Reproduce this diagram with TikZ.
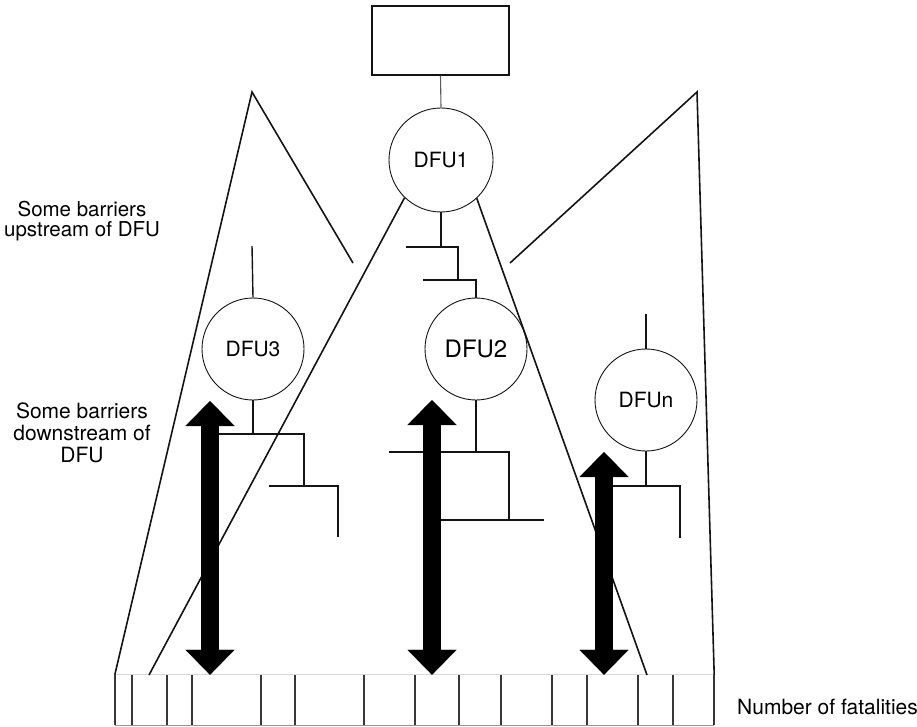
\documentclass[tikz,border=0pt]{standalone}
\usepackage{fontspec}
\setsansfont{TeX Gyre Heros}
\usetikzlibrary{arrows.meta, calc}
\definecolor{tDark}{RGB}{20, 20, 20}
\definecolor{bGridTop}{RGB}{215, 215, 215}
\definecolor{bGridBot}{RGB}{150, 150, 150}

\begin{document}
\begin{tikzpicture}[
    x=1pt, y=-1pt,
    font=\sffamily\fontsize{21}{22}\selectfont,
    dfu/.style={
        draw=tDark,
        circle,
        line width=0.9pt,
        minimum size=102pt,
        inner sep=0pt,
        fill=white
    },
    link/.style={line width=1.4pt, color=tDark},
    side/.style={line width=1.6pt, color=tDark},
    tick/.style={line width=1.4pt, color=tDark!85},
    bigarrow/.style={line width=17.5pt, <->, >={Triangle[length=25pt, width=49pt, line width=0.1pt]}}
]

\useasboundingbox (0,0) rectangle (917,727);

% labels
\node[align=center, inner sep=0pt, font=\sffamily\fontsize{20.5}{19.5}\selectfont] (up) at (82,221) {Some barriers\\upstream of DFU};
\node[align=center, font=\sffamily\fontsize{21}{22}\selectfont] (down) at (82,433) {Some barriers\\downstream of\\DFU};
\node[anchor=base west, inner sep=0pt] (fat) at (737,714) {Number of fatalities};

% units
\node[draw=tDark, line width=1.1pt, minimum width=137pt, minimum height=69pt, inner sep=0pt] (src) at (440.5,40.5) {};
\node[dfu, minimum size=104pt] (dfu1) at (441,160) {DFU1};
\node[dfu, font=\sffamily\fontsize{24}{26}\selectfont] (dfu2) at (476,349) {DFU2};
\node[dfu] (dfu3) at (253,349) {DFU3};
\node[dfu] (dfun) at (646,400) {DFUn};

% fatalities scale
\node[minimum width=599pt, minimum height=50pt, inner sep=0pt] (bar) at (414.5,700) {};
\draw[bGridTop, line width=1pt] (bar.north west) -- (bar.north east);
\draw[bGridBot, line width=1pt] (bar.south west) -- (bar.south east);
\foreach \dx in {0,17,52,77,146,180,249,300,344,386,437,472,523,558,599}
    \draw[tick] ([xshift=\dx pt]bar.north west) -- ([xshift=\dx pt]bar.south west);

% barrier fans
\coordinate (apexL) at (252,92);
\coordinate (endL) at (353,263);
\coordinate (apexR) at (697,92);
\coordinate (endR) at (510,263);
\coordinate (footL) at (149,675);
\coordinate (footR) at (647,675);
\draw[side] (bar.north west) -- (apexL) -- (endL);
\draw[side] (endR) -- (apexR) -- (bar.north east);
\draw[side] (dfu1.226) -- (footL);
\draw[side] (dfu1.313) -- (footR);

% DFU1 -> DFU2
\coordinate (u1) at (406,247);
\coordinate (u1e) at (458,280);
\coordinate (u2) at (423,280);
\draw[link, line width=1.1pt, tDark!70] (src.south) -- (dfu1.north);
\draw[link] (dfu1.south) -- (dfu1.south |- u1);
\draw[link] (u1) -| (u1e);
\draw[link] (u2) -| (dfu2.north);

% DFU2 downstream
\coordinate (d2a) at (389,452);
\coordinate (d2b) at (509,520);
\coordinate (d2c) at (432,520);
\coordinate (d2d) at (544,520);
\draw[link] (dfu2.south) -- (dfu2.south |- d2a);
\draw[link] (d2a) -| (d2b);
\draw[link] (d2c) -- (d2d);

% DFU3
\coordinate (in3) at (252,246);
\coordinate (d3a) at (210,434);
\coordinate (d3b) at (304,486);
\coordinate (d3c) at (269,486);
\coordinate (d3d) at (338,537);
\draw[link] (in3) -- (dfu3.north);
\draw[link] (dfu3.south) -- (dfu3.south |- d3a);
\draw[link] (d3a) -| (d3b);
\draw[link] (d3c) -| (d3d);

% DFUn
\coordinate (inn) at (646,314);
\coordinate (dna) at (604,486);
\coordinate (dnb) at (680,538);
\draw[link] (inn) -- (dfun.north);
\draw[link] (dfun.south) -- (dfun.south |- dna);
\draw[link] (dna) -| (dnb);

% barrier effect arrows
\coordinate (arr3) at (210,401);
\coordinate (arr2) at (432,400);
\coordinate (arrn) at (604,452);
\draw[bigarrow] (arr3) -- (arr3 |- bar.north);
\draw[bigarrow] (arr2) -- (arr2 |- bar.north);
\draw[bigarrow] (arrn) -- (arrn |- bar.north);

\end{tikzpicture}
\end{document}
